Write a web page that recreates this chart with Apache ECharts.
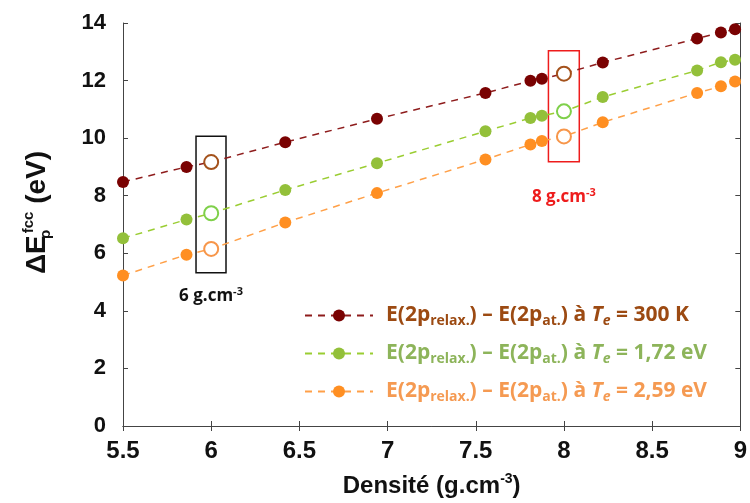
<!DOCTYPE html>
<html>
<head>
<meta charset="utf-8">
<script src="https://cdn.jsdelivr.net/npm/echarts@6/dist/echarts.min.js"></script>
<style>html,body{margin:0;padding:0;background:#fff}#c{width:750px;height:503px}</style>
</head>
<body>
<div id="c"></div>
<script>
// Density (g.cm-3)
const densities = [5.5, 5.86, 6.0, 6.42, 6.94, 7.555, 7.81, 7.875, 8.0, 8.22, 8.755, 8.89, 8.97];
// ΔE (eV) for each electronic temperature
const e300K  = [8.48, 9.0, 9.17, 9.86, 10.67, 11.57, 11.99, 12.06, 12.24, 12.63, 13.46, 13.67, 13.78];
const e172eV = [6.52, 7.17, 7.39, 8.2, 9.13, 10.24, 10.70, 10.78, 10.93, 11.43, 12.35, 12.64, 12.72];
const e259eV = [5.23, 5.95, 6.15, 7.07, 8.09, 9.26, 9.78, 9.90, 10.06, 10.55, 11.57, 11.80, 11.97];
// highlighted densities (open circles)
const highlighted = [6, 8];
const seriesNames = ['300 K', '1,72 eV', '2,59 eV'];
const xTicks = [5.5, 6, 6.5, 7, 7.5, 8, 8.5, 9];
const yTicks = [0, 2, 4, 6, 8, 10, 12, 14];

const palette = [
  {dot:'#7a0202', line:'#8e1c1c', open:'#a4521c', text:'#9c4a12'},
  {dot:'#93c03a', line:'#9acd32', open:'#7fd04a', text:'#8db45a'},
  {dot:'#ff8f22', line:'#ffa048', open:'#f7964a', text:'#f59a52'}
];
const values = [e300K, e172eV, e259eV];

function buildData(ys, p) {
  return densities.map((x, i) => {
    const item = {value: [x, ys[i]]};
    if (highlighted.indexOf(x) >= 0) {
      item.itemStyle = {color: '#ffffff', borderColor: p.open, borderWidth: 2};
      item.symbolSize = 14;
    }
    return item;
  });
}

const font = '"Open Sans", Lato, sans-serif';
const arial = '"Liberation Sans", Arial, sans-serif';
const richLegend = {};
palette.forEach((p, k) => {
  richLegend['n' + k] = {color: p.text, fontFamily: font, fontWeight: 'bold', fontSize: 21, lineHeight: 26};
  richLegend['s' + k] = {color: p.text, fontFamily: font, fontWeight: 'bold', fontSize: 14, lineHeight: 14, verticalAlign: 'bottom'};
  richLegend['i' + k] = {color: p.text, fontFamily: font, fontWeight: 'bold', fontStyle: 'italic', fontSize: 21, lineHeight: 26};
  richLegend['e' + k] = {color: p.text, fontFamily: font, fontWeight: 'bold', fontStyle: 'italic', fontSize: 14, lineHeight: 14, verticalAlign: 'bottom'};
});

const series = values.map((ys, k) => ({
  name: seriesNames[k],
  type: 'line',
  data: buildData(ys, palette[k]),
  symbol: 'circle',
  symbolSize: 12,
  clip: false,
  z: 3 + k,
  itemStyle: {color: palette[k].dot},
  lineStyle: {color: palette[k].line, width: 1.5, type: [7, 6]},
  emphasis: {disabled: true}
}));

function boxLabel(color, dist, text) {
  return {show: true, position: 'bottom', distance: dist, color: color,
    formatter: '{a|' + text + '}{b|-3}',
    rich: {a: {fontFamily: font, fontWeight: 'bold', fontSize: 17, color: color, lineHeight: 20},
           b: {fontFamily: font, fontWeight: 'bold', fontSize: 11, color: color, lineHeight: 11, verticalAlign: 'top'}}};
}

series[0].markArea = {
  silent: true,
  z: 1,
  itemStyle: {color: 'rgba(0,0,0,0)', borderWidth: 1.5},
  data: [
    [{coord: [5.914, 10.07], itemStyle: {borderColor: '#111', color: 'rgba(0,0,0,0)'},
      label: boxLabel('#111', 13, '6 g.cm')},
     {coord: [6.084, 5.32]}],
    [{coord: [7.912, 13.04], itemStyle: {borderColor: '#ee1c1c', color: 'rgba(0,0,0,0)'},
      label: boxLabel('#ee1c1c', 25, '8 g.cm')},
     {coord: [8.087, 9.18]}]
  ]
};

const axisLine = {show: true, lineStyle: {color: '#444', width: 1}};

const option = {
  animation: false,
  backgroundColor: '#fff',
  grid: {left: 123, right: 5, top: 23, bottom: 75},
  legend: {
    orient: 'vertical',
    left: 299,
    top: 300,
    itemWidth: 68,
    itemHeight: 15,
    itemGap: 14.5,
    selectedMode: false,
    data: seriesNames,
    textStyle: {rich: richLegend, padding: [0, 0, 0, 8]},
    formatter: function (name) {
      const k = seriesNames.indexOf(name);
      return '{n' + k + '|E(2p}{s' + k + '|relax.}{n' + k + '|) – E(2p}{s' + k + '|at.}{n' + k + '|) à }{i' + k + '|T}{e' + k + '|e}{n' + k + '| = ' + name + '}';
    }
  },
  xAxis: [{
    type: 'value', min: xTicks[0], max: xTicks[xTicks.length - 1], interval: 0.5,
    axisLine: axisLine,
    axisTick: {show: true, inside: true, length: 5, lineStyle: {color: '#444'}},
    splitLine: {show: false},
    axisLabel: {margin: 13, fontFamily: arial, fontWeight: 'bold', fontSize: 24, color: '#111'},
    name: '{a|Densité (g.cm}{b|-3}{a|)}',
    nameLocation: 'middle',
    nameGap: 46,
    nameTextStyle: {rich: {
      a: {fontFamily: arial, fontWeight: 'bold', fontSize: 24, color: '#111', lineHeight: 28},
      b: {fontFamily: arial, fontWeight: 'bold', fontSize: 14, color: '#111', lineHeight: 14, verticalAlign: 'top'}
    }}
  }, {
    type: 'value', position: 'top', min: xTicks[0], max: xTicks[xTicks.length - 1], interval: 0.5,
    axisLine: axisLine,
    axisTick: {show: true, inside: true, length: 5, lineStyle: {color: '#444'}},
    axisLabel: {show: false}, splitLine: {show: false}
  }],
  yAxis: [{
    type: 'value', min: yTicks[0], max: yTicks[yTicks.length - 1], interval: 2,
    axisLine: axisLine,
    axisTick: {show: true, inside: true, length: 5, lineStyle: {color: '#444'}},
    splitLine: {show: false},
    axisLabel: {margin: 17, fontFamily: arial, fontWeight: 'bold', fontSize: 22, color: '#111', padding: [0, 0, 10, 0]},
    name: '{a|ΔE}{b|ρ}{c|fcc}{a| (eV)}',
    nameLocation: 'middle',
    nameGap: 70,
    nameTextStyle: {padding: [0, 0, 0, 24], rich: {
      a: {fontFamily: arial, fontWeight: 'bold', fontSize: 28, color: '#111', lineHeight: 32},
      b: {fontFamily: arial, fontWeight: 'bold', fontSize: 15, color: '#111', lineHeight: 15, verticalAlign: 'bottom', width: 2},
      c: {fontFamily: arial, fontWeight: 'bold', fontSize: 15, color: '#111', lineHeight: 15, verticalAlign: 'top'}
    }}
  }, {
    type: 'value', position: 'right', min: yTicks[0], max: yTicks[yTicks.length - 1], interval: 2,
    axisLine: axisLine,
    axisTick: {show: true, inside: true, length: 5, lineStyle: {color: '#444'}},
    axisLabel: {show: false}, splitLine: {show: false}
  }],
  series: series
};

const chart = echarts.init(document.getElementById('c'), null, {renderer: 'canvas'});
chart.setOption(option);
</script>
</body>
</html>
